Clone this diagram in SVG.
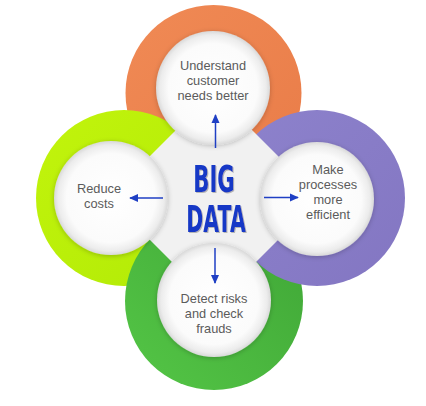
<svg xmlns="http://www.w3.org/2000/svg" width="426" height="406" viewBox="0 0 426 406">
  <defs>
    <radialGradient id="wg" cx="50%" cy="50%" r="50%">
      <stop offset="0" stop-color="#ffffff"/>
      <stop offset="0.78" stop-color="#fbfbfb"/>
      <stop offset="0.93" stop-color="#ececec"/>
      <stop offset="1" stop-color="#d9d9d9"/>
    </radialGradient>
    <linearGradient id="gOrange" x1="0" y1="0" x2="1" y2="1">
      <stop offset="0" stop-color="#f08a55"/>
      <stop offset="1" stop-color="#e97c48"/>
    </linearGradient>
    <linearGradient id="gLime" x1="0" y1="0" x2="1" y2="1">
      <stop offset="0" stop-color="#c2f40c"/>
      <stop offset="1" stop-color="#b2ea06"/>
    </linearGradient>
    <linearGradient id="gGreen" x1="0" y1="1" x2="1" y2="0">
      <stop offset="0" stop-color="#54c646"/>
      <stop offset="1" stop-color="#3fa536"/>
    </linearGradient>
    <linearGradient id="gPurple" x1="0" y1="0" x2="1" y2="1">
      <stop offset="0" stop-color="#8d82cc"/>
      <stop offset="1" stop-color="#8376c2"/>
    </linearGradient>
    <filter id="sh" x="-20%" y="-20%" width="140%" height="140%">
      <feGaussianBlur in="SourceAlpha" stdDeviation="2.5"/>
      <feOffset dx="0" dy="1" result="b"/>
      <feFlood flood-color="#000" flood-opacity="0.22"/>
      <feComposite in2="b" operator="in"/>
      <feMerge><feMergeNode/><feMergeNode in="SourceGraphic"/></feMerge>
    </filter>
    <filter id="tsh" x="-10%" y="-10%" width="130%" height="130%">
      <feOffset in="SourceAlpha" dx="1.2" dy="1.2" result="o"/>
      <feFlood flood-color="#9a9a9a" flood-opacity="0.7"/>
      <feComposite in2="o" operator="in"/>
      <feMerge><feMergeNode/><feMergeNode in="SourceGraphic"/></feMerge>
    </filter>
    <marker id="ah" viewBox="0 0 10 10" refX="9" refY="5" markerWidth="9" markerHeight="9" markerUnits="userSpaceOnUse" orient="auto">
      <path d="M0,0.5 L10,5 L0,9.5 Z" fill="#1f3fc4"/>
    </marker>
    <style>
      .lbl { font-family: "Liberation Sans", Arial, sans-serif; font-size: 12.8px; fill: #5b5b5b; text-anchor: middle; }
      .disc { fill: url(#wg); filter: url(#sh); }
      .conn { stroke: #1f3fc4; stroke-width: 1.5; fill: none; marker-end: url(#ah); }
      .big { font-family: "DejaVu Sans", "Liberation Sans", sans-serif; font-weight: bold; font-size: 38px; fill: #1538c6; text-anchor: middle; }
    </style>
  </defs>

  <g id="rings">
    <circle cx="213.5" cy="93" r="88" fill="url(#gOrange)"/>
    <circle cx="124" cy="198" r="88" fill="url(#gLime)"/>
    <circle cx="214" cy="301" r="89" fill="url(#gGreen)"/>
    <circle cx="317" cy="198" r="88" fill="url(#gPurple)"/>
  </g>

  <g id="center">
    <polygon points="214,92 320,198 214,304 108,198" fill="#f1f1f1"/>
    <g filter="url(#tsh)">
      <text class="big" transform="translate(214,192) scale(0.56,1)">BIG</text>
      <text class="big" transform="translate(216,232) scale(0.54,1)">DATA</text>
    </g>
  </g>

  <g id="node-top">
    <circle class="disc" cx="213" cy="88" r="57"/>
    <text class="lbl" x="213" y="70">Understand</text>
    <text class="lbl" x="213" y="85">customer</text>
    <text class="lbl" x="213" y="100">needs better</text>
  </g>

  <g id="node-left">
    <circle class="disc" cx="111" cy="198" r="57"/>
    <text class="lbl" x="99" y="193">Reduce</text>
    <text class="lbl" x="99" y="208">costs</text>
  </g>

  <g id="node-right">
    <circle class="disc" cx="317" cy="199" r="57"/>
    <text class="lbl" x="328" y="174">Make</text>
    <text class="lbl" x="328" y="189">processes</text>
    <text class="lbl" x="328" y="204">more</text>
    <text class="lbl" x="328" y="219">efficient</text>
  </g>

  <g id="node-bottom">
    <circle class="disc" cx="214" cy="300" r="57"/>
    <text class="lbl" x="214" y="303">Detect risks</text>
    <text class="lbl" x="214" y="318">and check</text>
    <text class="lbl" x="214" y="333">frauds</text>
  </g>

  <g id="connectors">
    <line class="conn" x1="215.5" y1="148" x2="215.5" y2="115"/>
    <line class="conn" x1="163" y1="198" x2="130" y2="198"/>
    <line class="conn" x1="264" y1="197.5" x2="298" y2="197.5"/>
    <line class="conn" x1="215" y1="248" x2="215" y2="283"/>
  </g>
</svg>
